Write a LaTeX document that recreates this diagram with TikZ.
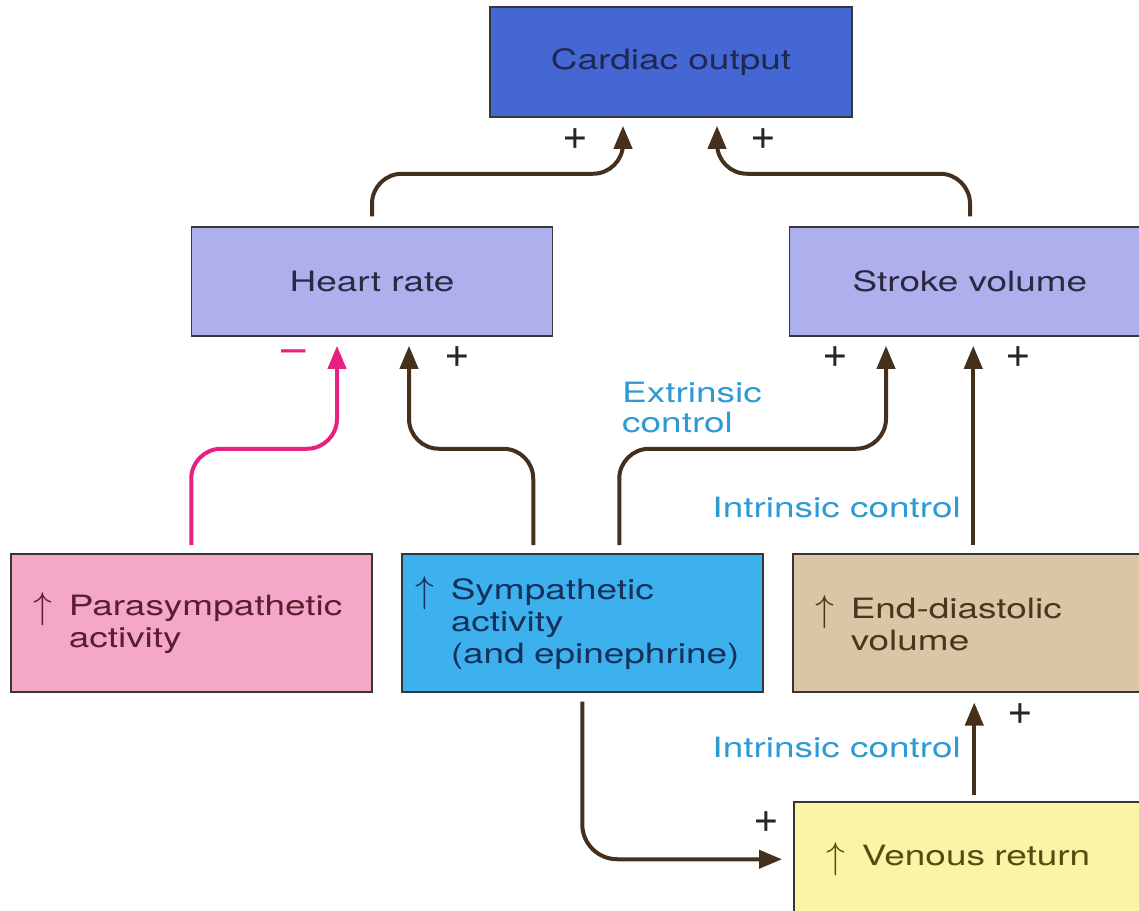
\documentclass[tikz,border=0pt]{standalone}
\usepackage{fontspec}
\usepackage{graphicx}
\setmainfont{TeX Gyre Heros}[FakeStretch=1.32]
\newfontfamily\plusfont{TeX Gyre Heros}
\usetikzlibrary{arrows.meta}
\definecolor{cofill}{HTML}{4567D3}
\definecolor{hrfill}{HTML}{AEB0EE}
\definecolor{parafill}{HTML}{F4A7C6}
\definecolor{symfill}{HTML}{3DB1EE}
\definecolor{edvfill}{HTML}{D8C6A4}
\definecolor{vrfill}{HTML}{FAF4A6}
\definecolor{boxline}{HTML}{3A3535}
\definecolor{cotext}{HTML}{1F2850}
\definecolor{hrtext}{HTML}{2B2840}
\definecolor{paratext}{HTML}{5A1F2F}
\definecolor{symtext}{HTML}{15305A}
\definecolor{edvtext}{HTML}{4A3520}
\definecolor{vrtext}{HTML}{5A4A10}
\definecolor{arrbrown}{HTML}{45301E}
\definecolor{pinkarr}{HTML}{E8207F}
\definecolor{ctrlblue}{HTML}{2E9AD5}
\newcommand{\uparr}{\makebox[35pt][l]{\raisebox{-3pt}{\resizebox{!}{26pt}{$\uparrow$}}}}
\newcommand{\indt}{\hspace*{35pt}}
\begin{document}
\begin{tikzpicture}[x=1pt,y=-1pt,
  font=\fontsize{28}{32}\selectfont,
  box/.style={draw=boxline, line width=1.5pt, inner sep=0pt},
  topbox/.style={box, minimum width=361pt, minimum height=109pt},
  lowbox/.style={box, anchor=north west, minimum width=361pt, align=left},
  arr/.style={draw=arrbrown, line width=4pt, rounded corners=30pt,
    -{Triangle[length=23pt,width=18pt]}},
  plus/.style={text=black!85, font=\plusfont\fontsize{44}{44}\selectfont},
  ctrl/.style={text=ctrlblue, font=\fontsize{28}{30}\selectfont}]
\useasboundingbox (0,0) rectangle (1139,910);
\clip (0,0) rectangle (1139,910);
\fill[white] (0,0) rectangle (1139,910);

% boxes
\node[topbox, fill=cofill, text=cotext, minimum width=362pt, minimum height=110pt] (co) at (671,62) {Cardiac output};
\node[topbox, fill=hrfill, text=hrtext] (hr) at (372,281.5) {Heart rate};
\node[topbox, fill=hrfill, text=hrtext] (sv) at (970,281.5) {Stroke volume};

\node[lowbox, fill=parafill, text=paratext, minimum height=138pt,
  inner xsep=23pt, text width=315pt] (para) at (10,553)
  {\uparr Parasympathetic\\\indt activity};
\node[lowbox, fill=symfill, text=symtext, minimum height=138pt,
  inner xsep=14pt, text width=333pt] (sym) at (401,553)
  {\uparr Sympathetic\\\indt activity\\\indt (and epinephrine)};
\node[lowbox, fill=edvfill, text=edvtext, minimum height=138pt,
  inner xsep=23pt, text width=315pt] (edv) at (792,553)
  {\uparr End-diastolic\\\indt volume};
\node[lowbox, fill=vrfill, text=vrtext, minimum height=115pt,
  inner xsep=33pt, text width=295pt] (vr) at (793,801)
  {\uparr Venous return};

% connectors
\draw[arr] ([yshift=10pt]hr.north) |- ([xshift=-48pt,yshift=-56pt]co.south) -- ([xshift=-48pt,yshift=-8pt]co.south);
\draw[arr] ([yshift=10pt]sv.north) |- ([xshift=46pt,yshift=-56pt]co.south) -- ([xshift=46pt,yshift=-8pt]co.south);
\draw[arr, draw=pinkarr] ([yshift=8pt]para.north) |- ([xshift=-35pt,yshift=-112pt]hr.south) -- ([xshift=-35pt,yshift=-9pt]hr.south);
\draw[arr] ([xshift=-49pt,yshift=8pt]sym.north) |- ([xshift=37pt,yshift=-112pt]hr.south) -- ([xshift=37pt,yshift=-9pt]hr.south);
\draw[arr] ([xshift=37pt,yshift=8pt]sym.north) |- ([xshift=-84pt,yshift=-112pt]sv.south) -- ([xshift=-84pt,yshift=-9pt]sv.south);
\draw[arr] ([yshift=8pt]edv.north) -- ([yshift=-9pt]edv.north |- sv.south);
\draw[arr] ([yshift=6pt]vr.north) -- ([yshift=-10pt]vr.north |- edv.south);
\draw[arr, rounded corners=35pt] ([yshift=-9pt]sym.south) |- ([xshift=-11pt]vr.west);

% signs
\node[plus] (pco1) at (575,139) {+};
\node[plus] (pco2) at (763,139) {+};
\node[plus, text=pinkarr] (mhr) at (294,357) {–};
\node[plus] (phr) at (457,357) {+};
\node[plus] (psv1) at (835,357) {+};
\node[plus] (psv2) at (1018,357) {+};
\node[plus] (pedv) at (1020,714) {+};
\node[plus] (pvr) at (766,822) {+};

% control labels
\node[ctrl, anchor=west, align=left, inner sep=0pt] (ext) at (622,407) {Extrinsic\\control};
\node[ctrl, anchor=east, inner sep=0pt] (int1) at (961,507) {Intrinsic control};
\node[ctrl, anchor=east, inner sep=0pt] (int2) at (961,747) {Intrinsic control};
\end{tikzpicture}
\end{document}
